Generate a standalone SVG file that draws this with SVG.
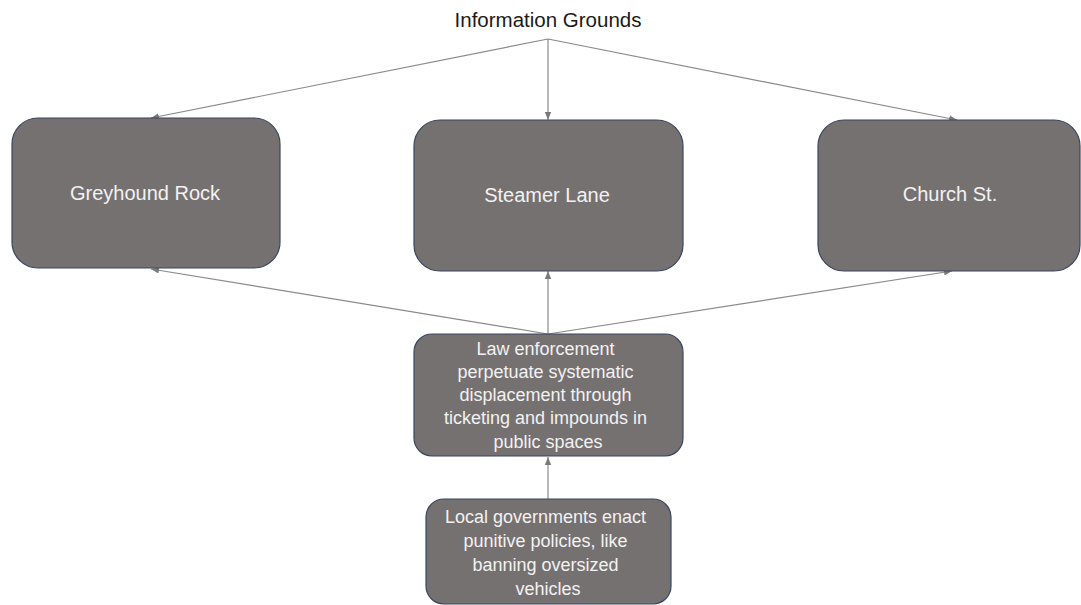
<svg xmlns="http://www.w3.org/2000/svg" width="1081" height="605" viewBox="0 0 1081 605">
  <defs>
    <marker id="arr" markerUnits="userSpaceOnUse" markerWidth="8" markerHeight="8" viewBox="0 0 8 8" refX="8" refY="4" orient="auto">
      <path d="M0,0.8 L8,4 L0,7.2 Z" fill="#7a7a7a"/>
    </marker>
    <style>
      .box { fill: #767171; stroke: #3a4560; stroke-width: 1.2; }
      .lbl { font-family: "Liberation Sans", Arial, sans-serif; fill: #f2f2f2; text-anchor: middle; }
      .big { font-size: 20px; }
      .sm { font-size: 18px; }
      .con { stroke: #8a8a8a; stroke-width: 1.2; fill: none; marker-end: url(#arr); }
    </style>
  </defs>
  <rect width="1081" height="605" fill="#ffffff"/>

  <text id="title" x="548" y="27" font-family="'Liberation Sans', Arial, sans-serif" font-size="20.5" fill="#1a1a1a" text-anchor="middle">Information Grounds</text>

  <g id="connectors">
    <line class="con" x1="548" y1="39" x2="151" y2="118"/>
    <line class="con" x1="548" y1="39" x2="548" y2="120"/>
    <line class="con" x1="548" y1="39" x2="957" y2="120"/>
    <line class="con" x1="548" y1="334" x2="151" y2="269"/>
    <line class="con" x1="548" y1="334" x2="548" y2="271"/>
    <line class="con" x1="548" y1="334" x2="952" y2="271"/>
    <line class="con" x1="548" y1="499" x2="548" y2="457"/>
  </g>

  <g id="greyhound">
    <rect class="box" x="12" y="118" width="268" height="150" rx="26"/>
    <text class="lbl big" x="145" y="200">Greyhound Rock</text>
  </g>
  <g id="steamer">
    <rect class="box" x="414" y="120" width="269" height="151" rx="26"/>
    <text class="lbl big" x="547" y="202">Steamer Lane</text>
  </g>
  <g id="church">
    <rect class="box" x="818" y="120" width="262" height="151" rx="26"/>
    <text class="lbl big" x="950" y="201">Church St.</text>
  </g>
  <g id="law">
    <rect class="box" x="414" y="334" width="269" height="122" rx="18"/>
    <text class="lbl sm" x="548">
      <tspan x="548" y="355">Law enforcement</tspan>
      <tspan x="548" y="378">perpetuate  systematic</tspan>
      <tspan x="548" y="401">displacement through</tspan>
      <tspan x="548" y="424">ticketing and impounds in</tspan>
      <tspan x="548" y="448">public spaces</tspan>
    </text>
  </g>
  <g id="local">
    <rect class="box" x="426" y="499" width="245" height="105" rx="18"/>
    <text class="lbl sm" x="548">
      <tspan x="548" y="523">Local governments  enact</tspan>
      <tspan x="548" y="547">punitive policies, like</tspan>
      <tspan x="548" y="571">banning oversized</tspan>
      <tspan x="548" y="595">vehicles</tspan>
    </text>
  </g>
</svg>
